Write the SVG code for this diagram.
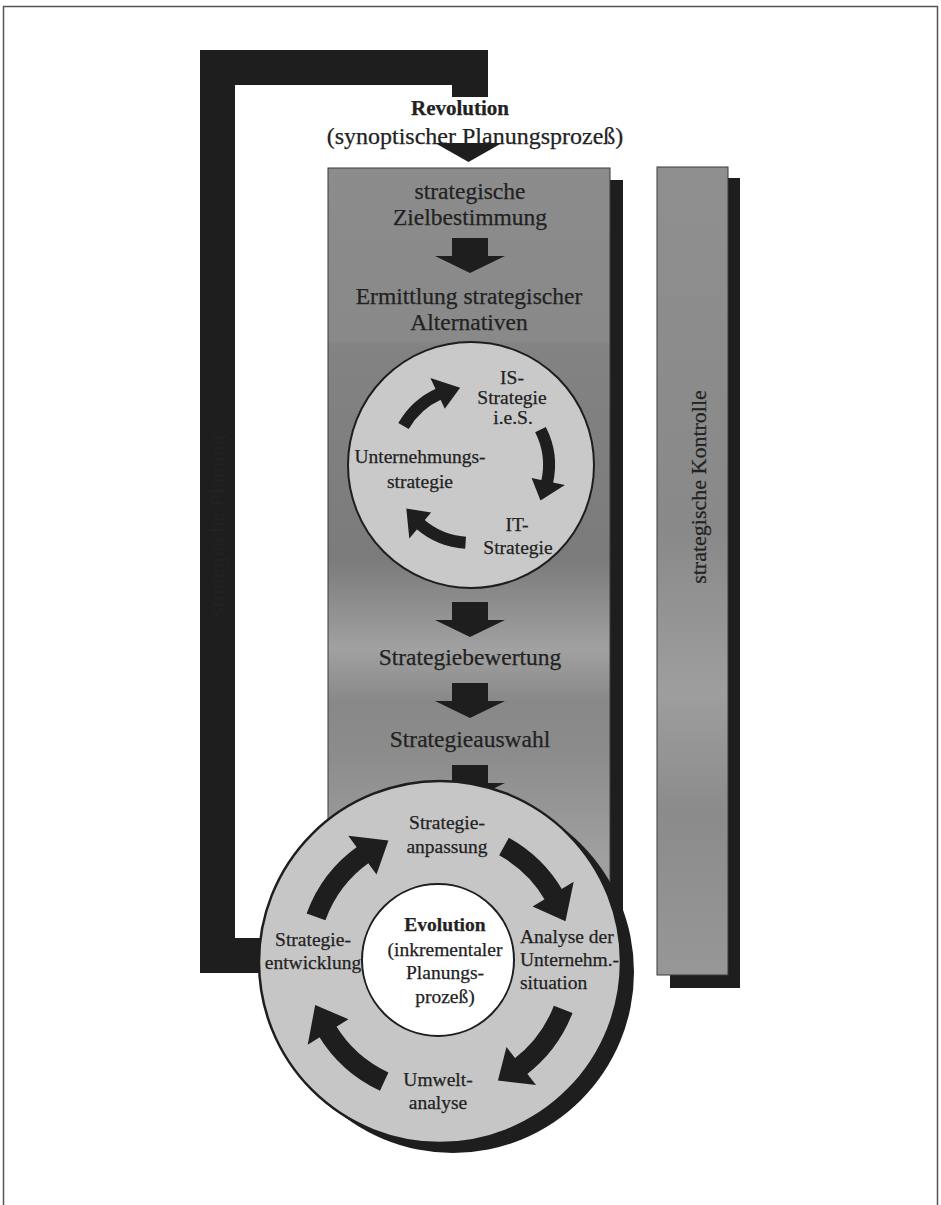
<svg xmlns="http://www.w3.org/2000/svg" width="941" height="1205" viewBox="0 0 941 1205">
  <style>
    .t { font-family: "Liberation Serif", "Times New Roman", serif; fill: #222; text-anchor: middle; stroke: #222; stroke-width: 0.25px; }
    .big { font-size: 23.5px; }
    .mid { font-size: 19.5px; }
    .bold { font-weight: bold; }
    .blk { fill: #1e1e1e; }
    .arc { fill: none; stroke: #1e1e1e; }
  </style>
  <defs>
    <linearGradient id="boxGrad" x1="0" y1="0" x2="0" y2="1">
      <stop offset="0" stop-color="#8c8c8c"/>
      <stop offset="0.23" stop-color="#898989"/>
      <stop offset="0.235" stop-color="#838383"/>
      <stop offset="0.52" stop-color="#7b7b7b"/>
      <stop offset="0.64" stop-color="#a1a1a1"/>
      <stop offset="0.71" stop-color="#888888"/>
      <stop offset="0.78" stop-color="#8c8c8c"/>
      <stop offset="0.92" stop-color="#a0a0a0"/>
      <stop offset="1" stop-color="#9e9e9e"/>
    </linearGradient>
    <linearGradient id="barGrad" x1="0" y1="0" x2="0" y2="1">
      <stop offset="0" stop-color="#8f8f8f"/>
      <stop offset="0.45" stop-color="#898989"/>
      <stop offset="0.65" stop-color="#9e9e9e"/>
      <stop offset="0.8" stop-color="#8b8b8b"/>
      <stop offset="1" stop-color="#979797"/>
    </linearGradient>
    <path id="downArrow" d="M-18,0 H18 V18 H35 L0,35 L-35,18 H-18 Z"/>
  </defs>

  <rect x="0" y="0" width="941" height="1205" fill="#ffffff"/>
  <!-- outer frame -->
  <path d="M3.5,1210 V6.5 H937.5 V1210" fill="none" stroke="#555" stroke-width="1.5"/>

  <g id="connectors">
    <!-- feedback loop (evolution back to revolution) -->
    <path id="feedback-loop" class="blk" d="M200,50 H488 V97 H452 V85 H235 V938 H285 V973 H200 Z"/>
    <text class="t" font-size="22" style="fill:#222222;stroke:none" transform="translate(224,525) rotate(-90)">strategische Planung</text>
  </g>

  <g id="planning-box">
    <rect x="341" y="180" width="282" height="752" fill="#1e1e1e"/>
    <rect x="328" y="168" width="282" height="752" fill="url(#boxGrad)" stroke="#3a3a3a" stroke-width="1"/>
  </g>

  <g id="node-kontrolle">
    <rect x="670" y="178" width="70" height="810" fill="#1e1e1e"/>
    <rect x="657" y="167" width="71" height="808" fill="url(#barGrad)" stroke="#3a3a3a" stroke-width="1"/>
    <text class="t" font-size="22" transform="translate(706,487) rotate(-90)">strategische Kontrolle</text>
  </g>

  <g id="node-revolution">
    <polygon class="blk" points="435,143 502,143 468.5,162"/>
    <text class="t bold" font-size="21" x="460" y="115">Revolution</text>
    <text class="t" font-size="24" x="475" y="144">(synoptischer Planungsprozeß)</text>
  </g>

  <g id="node-zielbestimmung">
    <text class="t big" x="470" y="199">strategische</text>
    <text class="t big" x="470" y="225">Zielbestimmung</text>
  </g>

  <g id="node-ermittlung">
    <text class="t big" x="469" y="304">Ermittlung strategischer</text>
    <text class="t big" x="469" y="330">Alternativen</text>
  </g>

  <g id="node-strategy-cycle">
    <circle cx="471" cy="465" r="123" fill="#c9c9c9" stroke="#1e1e1e" stroke-width="2"/>
    <path class="arc" stroke-width="12" d="M403.5,426 A78,78 0 0,1 439.3,393.7"/>
    <polygon class="blk" points="444.8,408.8 430.4,378 460.1,387.8"/>
    <path class="arc" stroke-width="12" d="M540.5,429.6 A78,78 0 0,1 547,482.6"/>
    <polygon class="blk" points="531.6,477.9 564.9,485 540.5,500.4"/>
    <path class="arc" stroke-width="12" d="M465.6,542.8 A78,78 0 0,1 419.8,523.9"/>
    <polygon class="blk" points="431.1,512.5 409.3,538.5 406.3,508.6"/>
    <text class="t mid" x="512" y="384">IS-</text>
    <text class="t mid" x="512" y="404">Strategie</text>
    <text class="t mid" x="513" y="424">i.e.S.</text>
    <text class="t mid" x="420" y="463">Unternehmungs-</text>
    <text class="t mid" x="420" y="488">strategie</text>
    <text class="t mid" x="517" y="531">IT-</text>
    <text class="t mid" x="518" y="554">Strategie</text>
  </g>

  <g id="connectors-down">
    <use href="#downArrow" class="blk" transform="translate(470,238)"/>
    <use href="#downArrow" class="blk" transform="translate(470,602)"/>
    <use href="#downArrow" class="blk" transform="translate(470,683)"/>
    <use href="#downArrow" class="blk" transform="translate(470,765)"/>
  </g>

  <g id="node-bewertung">
    <text class="t big" x="470" y="665">Strategiebewertung</text>
  </g>

  <g id="node-auswahl">
    <text class="t big" x="470" y="747">Strategieauswahl</text>
  </g>

  <g id="node-evolution">
    <circle cx="453" cy="972" r="181" fill="#1e1e1e"/>
    <circle cx="440" cy="962" r="181" fill="#c6c6c6" stroke="#1e1e1e" stroke-width="2.5"/>
    <circle cx="438" cy="960" r="76" fill="#ffffff" stroke="#1e1e1e" stroke-width="2"/>
    <path class="arc" stroke-width="20" d="M316,916.9 A132,132 0 0,1 364.3,853.9"/>
    <polygon class="blk" points="376.5,874.6 348.3,835.8 388.4,840.5"/>
    <path class="arc" stroke-width="20" d="M504,846.6 A132,132 0 0,1 554.3,896"/>
    <polygon class="blk" points="532.6,906.4 573.7,881.7 565.5,921.2"/>
    <path class="arc" stroke-width="20" d="M563.2,1009.3 A132,132 0 0,1 519.4,1067.4"/>
    <polygon class="blk" points="506.5,1047.1 536,1084.9 497.9,1080.6"/>
    <path class="arc" stroke-width="20" d="M384.2,1081.6 A132,132 0 0,1 326.8,1030"/>
    <polygon class="blk" points="348.4,1019.2 307.7,1044.7 315.2,1005"/>
    <text class="t mid" x="447" y="829">Strategie-</text>
    <text class="t mid" x="447" y="853">anpassung</text>
    <text class="t mid bold" x="445" y="931">Evolution</text>
    <text class="t mid" x="445" y="956">(inkrementaler</text>
    <text class="t mid" x="445" y="979">Planungs-</text>
    <text class="t mid" x="445" y="1003">prozeß)</text>
    <text class="t mid" style="text-anchor:start" x="520" y="943">Analyse der</text>
    <text class="t mid" style="text-anchor:start" x="520" y="966">Unternehm.-</text>
    <text class="t mid" style="text-anchor:start" x="520" y="989">situation</text>
    <text class="t mid" x="313" y="946">Strategie-</text>
    <text class="t mid" x="313" y="969">entwicklung</text>
    <text class="t mid" x="438" y="1086">Umwelt-</text>
    <text class="t mid" x="438" y="1109">analyse</text>
  </g>
</svg>
